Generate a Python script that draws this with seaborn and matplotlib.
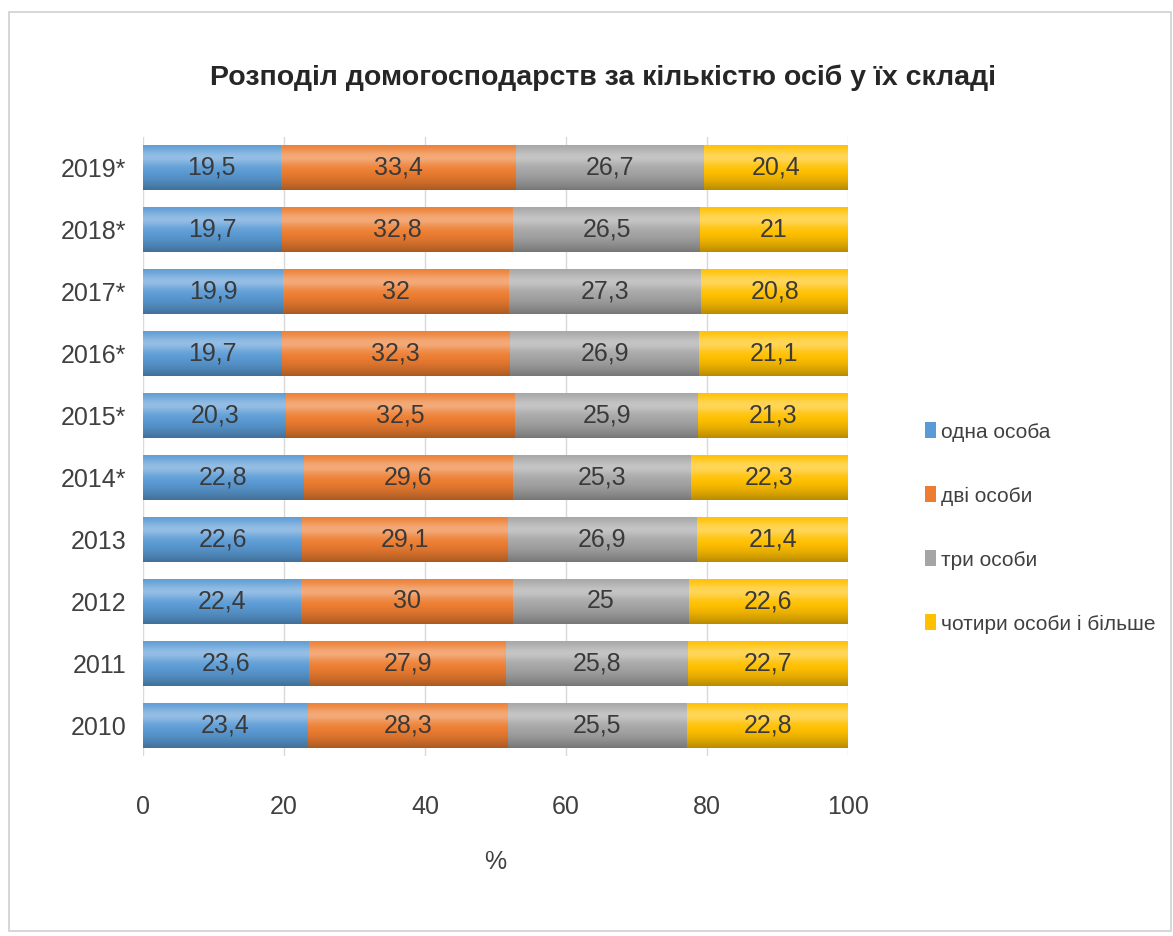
import matplotlib
matplotlib.use("Agg")
import matplotlib.pyplot as plt
from matplotlib.patches import Patch, Rectangle
import numpy as np
import pandas as pd
import seaborn as sns

years = ["2019*", "2018*", "2017*", "2016*", "2015*", "2014*", "2013", "2012", "2011", "2010"]
one_person = [19.5, 19.7, 19.9, 19.7, 20.3, 22.8, 22.6, 22.4, 23.6, 23.4]
two_persons = [33.4, 32.8, 32.0, 32.3, 32.5, 29.6, 29.1, 30.0, 27.9, 28.3]
three_persons = [26.7, 26.5, 27.3, 26.9, 25.9, 25.3, 26.9, 25.0, 25.8, 25.5]
four_plus = [20.4, 21.0, 20.8, 21.1, 21.3, 22.3, 21.4, 22.6, 22.7, 22.8]

series_names = ["одна особа", "дві особи", "три особи", "чотири особи і більше"]
colors = ["#5B9BD5", "#ED7D31", "#A5A5A5", "#FFC000"]

df = pd.DataFrame({"year": years, series_names[0]: one_person, series_names[1]: two_persons,
                   series_names[2]: three_persons, series_names[3]: four_plus})
vals = df[series_names].to_numpy()
cum = vals.cumsum(axis=1)

sns.set_theme(style="white")
plt.rcParams["font.family"] = ["Liberation Sans", "DejaVu Sans"]

fig = plt.figure(figsize=(11.73, 9.36), dpi=100)
ax = fig.add_axes([0.122, 0.192, 0.601, 0.662])

# stack by drawing cumulative totals from the last series backwards
for i in range(len(series_names) - 1, -1, -1):
    sns.barplot(x=cum[:, i], y=df["year"], order=years, orient="h", color=colors[i],
                width=0.73, saturation=1, ax=ax, edgecolor="none")

# cylinder-like shading, clipped to the full-length (last series) bars
t = np.linspace(0, 1, 64)
light = np.zeros((64, 1, 4))
light[:, 0, :3] = 1
light[:, 0, 3] = 0.35 * np.exp(-((t - 0.28) / 0.18) ** 2)
dark = np.zeros((64, 1, 4))
dark[:, 0, 3] = 0.28 * np.clip((t - 0.55) / 0.45, 0, 1) ** 1.5
for p in ax.containers[0].patches:
    x0, y0, w, h = p.get_x(), p.get_y(), p.get_width(), p.get_height()
    for g in (light, dark):
        im = ax.imshow(g, extent=(x0, x0 + w, y0 + h, y0), origin="upper",
                       aspect="auto", interpolation="bilinear", zorder=p.get_zorder() + 0.5)
        im.set_clip_path(p)

for r in range(len(years)):
    for i in range(len(series_names)):
        v = vals[r, i]
        txt = f"{v:g}".replace(".", ",")
        ax.text(cum[r, i] - v / 2, r, txt, ha="center", va="center",
                fontsize=18, color="#3a3a3a", zorder=5)

ax.set_xlim(0, 100)
ax.set_xticks([0, 20, 40, 60, 80, 100])
ax.set_ylim(9.5, -0.5)
ax.set_aspect("auto")
ax.grid(axis="x", color="#d9d9d9", linewidth=1)
ax.set_axisbelow(True)
for s in ax.spines.values():
    s.set_visible(False)
ax.tick_params(axis="x", length=0, pad=28, labelsize=18, colors="#404040")
ax.tick_params(axis="y", length=0, pad=12, labelsize=18, colors="#404040")
ax.set_ylabel("")
ax.set_xlabel("%", fontsize=18, color="#404040", labelpad=22)

fig.text(0.514, 0.917, "Розподіл домогосподарств за кількістю осіб у їх складі",
         ha="center", va="center", fontsize=20.5, fontweight="bold", color="#262626")

handles = [Patch(facecolor=c, edgecolor="none") for c in colors]
fig.legend(handles, series_names, loc="center left", bbox_to_anchor=(0.773, 0.436),
           frameon=False, fontsize=15, labelspacing=2.15, handlelength=0.5,
           handleheight=0.8, handletextpad=0.25, labelcolor="#404040")

fig.patches.append(Rectangle((0.008, 0.005), 0.99, 0.982, transform=fig.transFigure,
                             fill=False, edgecolor="#d0d0d0", linewidth=1.2))

fig.savefig("out.png", dpi=100)
